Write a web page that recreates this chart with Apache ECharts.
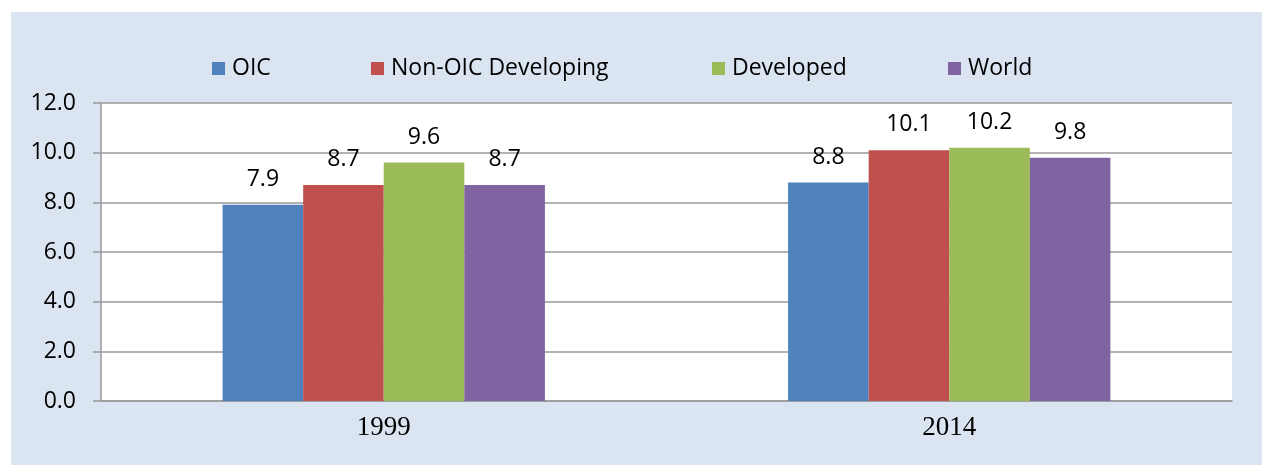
<!DOCTYPE html>
<html>
<head>
<meta charset="utf-8">
<script src="https://cdn.jsdelivr.net/npm/echarts@6/dist/echarts.min.js"></script>
<style>
  html, body { margin: 0; padding: 0; background: #fff; }
  #bg { position: absolute; left: 11px; top: 12px; width: 1251px; height: 453px; background: #dbe5f1; }
  #chart { position: absolute; left: 0; top: 0; width: 1262px; height: 465px; }
</style>
</head>
<body>
<div id="bg"></div>
<div id="chart"></div>
<script>
  // categories and series values
  var years = ['1999', '2014'];
  var oic = [7.9, 8.8];
  var nonOic = [8.7, 10.1];
  var developed = [9.6, 10.2];
  var world = [8.7, 9.8];
  var yTicks = [0, 2, 4, 6, 8, 10, 12];

  var names = ['OIC', 'Non-OIC Developing', 'Developed', 'World'];
  var colors = ['#4f81bd', '#c0504d', '#9bbb59', '#8064a2'];
  var values = [oic, nonOic, developed, world];
  var legendLeft = [212, 371, 712, 948];

  var sans = 'Open Sans';

  var legends = names.map(function (n, i) {
    return {
      data: [n],
      left: legendLeft[i],
      top: 57,
      padding: 0,
      icon: 'rect',
      itemWidth: 13,
      itemHeight: 13,
      textStyle: { fontFamily: sans, fontSize: 23, color: '#000', padding: [0, 0, 0, 2] }
    };
  });

  var series = names.map(function (n, i) {
    return {
      name: n,
      type: 'bar',
      data: values[i],
      barGap: 0,
      barCategoryGap: '43%',
      itemStyle: { color: colors[i] },
      label: {
        show: true,
        position: 'top',
        distance: 14,
        color: '#000',
        fontFamily: sans,
        fontSize: 23,
        formatter: function (p) { return p.value.toFixed(1); }
      }
    };
  });

  var chart = echarts.init(document.getElementById('chart'));
  chart.setOption({
    backgroundColor: 'transparent',
    animation: false,
    legend: legends,
    grid: {
      left: 101, right: 30, top: 103, bottom: 64,
      show: true, backgroundColor: '#fff', borderWidth: 0
    },
    xAxis: {
      type: 'category',
      data: years,
      axisLine: { lineStyle: { color: '#999', width: 1.5 } },
      axisTick: { show: false },
      axisLabel: { color: '#000', fontFamily: 'Liberation Serif', fontSize: 27, margin: 13 }
    },
    yAxis: {
      type: 'value',
      min: yTicks[0],
      max: yTicks[yTicks.length - 1],
      interval: 2,
      axisLine: { show: true, lineStyle: { color: '#999', width: 1.5 } },
      axisTick: { show: true, length: 8, lineStyle: { color: '#999', width: 1.5 } },
      splitLine: { lineStyle: { color: '#999', width: 1.5 } },
      axisLabel: {
        color: '#000', fontFamily: sans, fontSize: 23, margin: 25,
        formatter: function (v) { return v.toFixed(1); }
      }
    },
    series: series
  });
</script>
</body>
</html>
